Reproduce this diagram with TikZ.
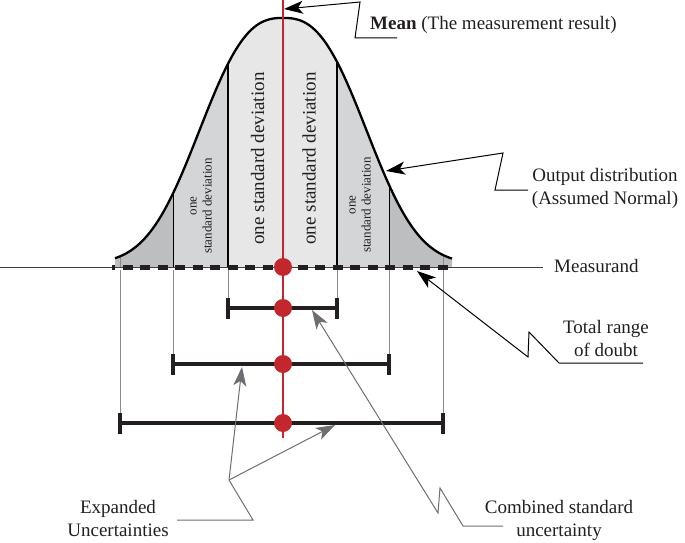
\documentclass[tikz,border=0pt]{standalone}
\usepackage{fontspec}
\setmainfont{Liberation Serif}
\usetikzlibrary{arrows.meta}
\definecolor{meanred}{HTML}{C1272D}
\definecolor{outerfill}{HTML}{BDBEC0}
\definecolor{midfill}{HTML}{D4D5D7}
\definecolor{innerfill}{HTML}{E7E7E8}
\definecolor{bardark}{HTML}{231F20}
\definecolor{leadgray}{HTML}{6D6E71}
\definecolor{thingray}{HTML}{8A8B8D}
\begin{document}
\begin{tikzpicture}[x=1pt,y=-1pt,
  declare function={bell(\t)=264-246*exp(-(pow(abs(\t-283)/101+0.0001,2.6)));},
  lbl/.style={font=\fontsize{19}{23}\selectfont, inner sep=0pt, text=bardark},
  bigsd/.style={font=\fontsize{19}{23}\selectfont, inner sep=0pt, rotate=90, text=bardark},
  smallsd/.style={font=\fontsize{13}{15}\selectfont, inner sep=0pt, rotate=90, align=center, text=bardark},
  blackleader/.style={draw=black, line width=1pt, -{Stealth[length=19pt,width=13pt,inset=5pt]}},
  grayleader/.style={draw=leadgray, line width=1pt, -{Stealth[length=19pt,width=13pt,inset=5pt]}},
  plainleader/.style={draw=leadgray, line width=1pt},
  errbar/.style={draw=bardark, line width=4pt},
  reddot/.style={circle, fill=meanred, minimum size=18pt, inner sep=0pt},
  sigone/.style={draw=black, line width=1.4pt},
  sigtwo/.style={draw=black, line width=0.9pt},
  sigthree/.style={draw=thingray, line width=0.7pt},
  dropline/.style={draw=thingray, line width=0.7pt},
  axisline/.style={draw=black!75, line width=0.8pt},
  dashbar/.style={draw=bardark, line width=5pt, dash pattern=on 10pt off 7.5pt, dash phase=6.8pt},
  curveline/.style={draw=black, line width=2.3pt}
]
\useasboundingbox (0,0) rectangle (685,543);

% shaded distribution
\fill[outerfill] (115,267) -- plot[domain=115:452,samples=161] (\x,{bell(\x)}) -- (452,267) -- cycle;
\begin{scope}
  \clip (115,267) -- plot[domain=115:452,samples=161] (\x,{bell(\x)}) -- (452,267) -- cycle;
  \fill[midfill] (173,0) rectangle (389,267);
  \fill[innerfill] (228,0) rectangle (337,267);
  \draw[sigthree] (120,0) -- (120,267);
  \draw[sigthree] (443,0) -- (443,267);
  \draw[sigtwo] (173,0) -- (173,267);
  \draw[sigtwo] (389,0) -- (389,267);
  \draw[sigone] (228,0) -- (228,267);
  \draw[sigone] (337,0) -- (337,267);
\end{scope}
\draw[curveline] plot[domain=115:452,samples=161] (\x,{bell(\x)});

% texts in the sections
\node[bigsd] (sdl) at (257.5,158.5) {one standard deviation};
\node[bigsd] (sdr) at (309,158.5) {one standard deviation};
\node[smallsd] (sdll) at (201,206) {one\\standard deviation};
\node[smallsd] (sdrr) at (360,205) {one\\standard deviation};

% measurand axis
\coordinate (axL) at (0,267.5);
\coordinate (axR) at (543,267.5);
\draw[axisline] (axL) -- (axR);
\coordinate (dbL) at (112,267.5);
\coordinate (dbR) at (452,267.5);
\draw[dashbar] (dbL) -- (dbR);

% drop lines
\draw[dropline] (228,270) -- (228,298);
\draw[dropline] (337,270) -- (337,298);
\draw[dropline] (173,270) -- (173,354);
\draw[dropline] (389,270) -- (389,354);
\draw[dropline] (120,270) -- (120,413);
\draw[dropline] (443,270) -- (443,413);

% error bars
\coordinate (b1L) at (228,308); \coordinate (b1R) at (337,308);
\coordinate (b2L) at (173,364); \coordinate (b2R) at (389,364);
\coordinate (b3L) at (120,423); \coordinate (b3R) at (443,423);
\draw[errbar] (b1L) -- (b1R);
\draw[errbar] (b2L) -- (b2R);
\draw[errbar] (b3L) -- (b3R);
\foreach \p in {b1L,b1R,b2L,b2R,b3L,b3R}{
  \draw[errbar] ([yshift=-10.5pt]\p) -- ([yshift=10.5pt]\p);
}

% mean line and dots
\coordinate (redtop) at (283,0);
\coordinate (redbot) at (283,438);
\draw[meanred, line width=2pt] (redtop) -- (redbot);
\node[reddot] (dot0) at (283,267) {};
\node[reddot] (dot1) at (283,308) {};
\node[reddot] (dot2) at (283,364) {};
\node[reddot] (dot3) at (283,423) {};

% labels
\node[lbl, anchor=base west] (mean) at (370,30) {\textbf{Mean} (The measurement result)};
\node[lbl, anchor=north, align=center] (outdist) at (605,168) {Output distribution\\(Assumed Normal)};
\node[lbl, anchor=base west] (measurand) at (554,272) {Measurand};
\node[lbl, anchor=north, align=center] (trd) at (606,320) {Total range\\of doubt};
\node[lbl, anchor=north, align=center] (expu) at (118,500) {Expanded\\Uncertainties};
\node[lbl, anchor=north, align=center] (csu) at (559,500) {Combined standard\\uncertainty};

% leaders
\coordinate (m1) at (397,38); \coordinate (m2) at (355,38); \coordinate (m3) at (360,2);
\coordinate (meantip) at (284,9);
\draw[blackleader] (m1) -- (m2) -- (m3) -- (meantip);

\coordinate (o1) at (528,190); \coordinate (o2) at (495,190); \coordinate (o3) at (503,153);
\coordinate (outtip) at (386,171);
\draw[blackleader] (o1) -- (o2) -- (o3) -- (outtip);

\coordinate (t1) at (643,363); \coordinate (t2) at (559,363); \coordinate (t3) at (529,332); \coordinate (t4) at (528,357);
\coordinate (trdtip) at (417,271);
\draw[blackleader] (t1) -- (t2) -- (t3) -- (t4) -- (trdtip);

\coordinate (e1) at (177,520); \coordinate (e2) at (253,520); \coordinate (e3) at (229,480);
\coordinate (etip2) at (242,367); \coordinate (etip3) at (335,425);
\draw[plainleader] (e1) -- (e2) -- (e3);
\draw[grayleader] (e3) -- (etip2);
\draw[grayleader] (e3) -- (etip3);

\coordinate (c1) at (503,526); \coordinate (c2) at (463,526); \coordinate (c3) at (440,488); \coordinate (c4) at (438,513);
\coordinate (ctip) at (312,310);
\draw[grayleader] (c1) -- (c2) -- (c3) -- (c4) -- (ctip);
\end{tikzpicture}
\end{document}
